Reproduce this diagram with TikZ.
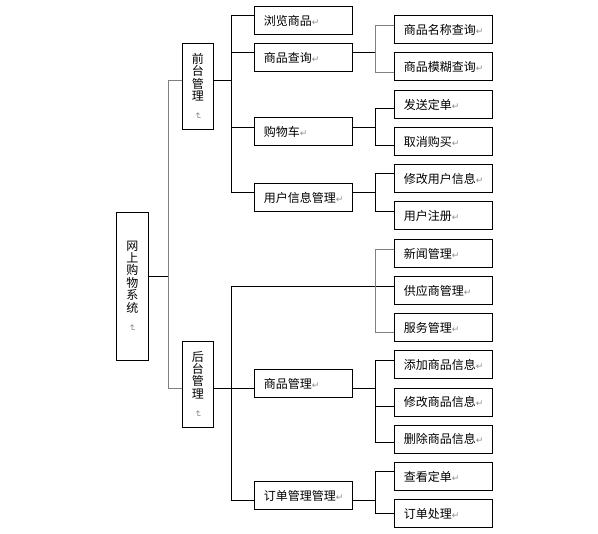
\documentclass[tikz,border=0pt]{standalone}
\usepackage{fontspec}
\newfontfamily\cjk{Noto Sans CJK SC}
\newfontfamily\symfont{DejaVu Sans}
\newcommand\retmark{{\symfont\color{black!45}\fontsize{9}{9}\selectfont ↵}}
\newcommand\retmarkv{\rotatebox{-90}{\retmark}}

\begin{document}
\begin{tikzpicture}[x=1pt, y=-1pt,
  hbox/.style={draw, line width=0.9pt, anchor=north west, minimum width=97.4pt,
    minimum height=28pt, text width=79pt, inner xsep=9.2pt, inner ysep=0pt,
    align=left, font=\cjk\fontsize{12}{14}\selectfont},
  vbox/.style={draw, line width=0.9pt, anchor=north west, minimum width=31.6pt,
    inner sep=0pt, align=center, font=\cjk\fontsize{12}{12.4}\selectfont},
  link/.style={line width=0.9pt},
  greylink/.style={line width=0.9pt, black!50}]
\useasboundingbox (0,0) rectangle (598,534);

% left column
\node[vbox, minimum height=148pt] (root) at (116,212) {网\\上\\购\\物\\系\\统\\\retmarkv};
\node[vbox, minimum height=86pt] (front) at (181.7,43.3) {前\\台\\管\\理\\\retmarkv};
\node[vbox, minimum height=86pt] (back) at (181.7,341.3) {后\\台\\管\\理\\\retmarkv};

% second column
\node[hbox] (browse) at (254.3,6.3) {浏览商品\retmark};
\node[hbox] (search) at (254.3,43.3) {商品查询\retmark};
\node[hbox] (cart) at (254.3,117.3) {购物车\retmark};
\node[hbox] (userinfo) at (254.3,183) {用户信息管理\retmark};
\node[hbox] (goods) at (254.3,369.3) {商品管理\retmark};
\node[hbox] (orders) at (254.3,481.3) {订单管理管理\retmark};

% third column
\node[hbox] (byname) at (394.3,15.3) {商品名称查询\retmark};
\node[hbox] (fuzzy) at (394.3,52.3) {商品模糊查询\retmark};
\node[hbox] (sendorder) at (394.3,90.3) {发送定单\retmark};
\node[hbox] (cancel) at (394.3,127.3) {取消购买\retmark};
\node[hbox] (edituser) at (394.3,164.3) {修改用户信息\retmark};
\node[hbox] (register) at (394.3,201.3) {用户注册\retmark};
\node[hbox] (news) at (394.3,239.3) {新闻管理\retmark};
\node[hbox] (supplier) at (394.3,276.3) {供应商管理\retmark};
\node[hbox] (service) at (394.3,313.3) {服务管理\retmark};
\node[hbox] (addgoods) at (394.3,350.3) {添加商品信息\retmark};
\node[hbox] (editgoods) at (394.3,387.7) {修改商品信息\retmark};
\node[hbox] (delgoods) at (394.3,424.7) {删除商品信息\retmark};
\node[hbox] (vieworder) at (394.3,462.3) {查看定单\retmark};
\node[hbox] (handle) at (394.3,499.3) {订单处理\retmark};

% trunks
\coordinate (t0) at (168.3,0);
\coordinate (t1) at (231.7,0);
\coordinate (t2) at (375.7,0);

% attach points
\coordinate (root-r) at ([yshift=10pt]root.east);
\coordinate (front-l) at ([yshift=6pt]front.west);
\coordinate (front-r) at ([yshift=6pt]front.east);
\coordinate (back-l) at ([yshift=-4pt]back.west);
\coordinate (back-r) at ([yshift=-4pt]back.east);
\coordinate (browse-l) at ([yshift=5pt]browse.west);
\coordinate (search-l) at ([yshift=5pt]search.west);
\coordinate (search-r) at ([yshift=5pt]search.east);
\coordinate (cart-l) at ([yshift=4.3pt]cart.west);
\coordinate (cart-r) at ([yshift=4.3pt]cart.east);
\coordinate (userinfo-l) at ([yshift=5pt]userinfo.west);
\coordinate (userinfo-r) at ([yshift=5pt]userinfo.east);
\coordinate (goods-l) at ([yshift=-4.7pt]goods.west);
\coordinate (goods-r) at ([yshift=-4.7pt]goods.east);
\coordinate (orders-l) at ([yshift=-4.4pt]orders.west);
\coordinate (orders-r) at ([yshift=-4.4pt]orders.east);
\coordinate (byname-l) at ([yshift=4.6pt]byname.west);
\coordinate (fuzzy-l) at ([yshift=-5.4pt]fuzzy.west);
\coordinate (sendorder-l) at ([yshift=-4pt]sendorder.west);
\coordinate (cancel-l) at ([yshift=-4pt]cancel.west);
\coordinate (edituser-l) at ([yshift=5pt]edituser.west);
\coordinate (register-l) at ([yshift=4pt]register.west);
\coordinate (news-l) at ([yshift=4.3pt]news.west);
\coordinate (supplier-l) at ([yshift=4.3pt]supplier.west);
\coordinate (service-l) at ([yshift=-5pt]service.west);
\coordinate (addgoods-l) at ([yshift=4.3pt]addgoods.west);
\coordinate (editgoods-l) at ([yshift=-4.3pt]editgoods.west);
\coordinate (delgoods-l) at ([yshift=-3.6pt]delgoods.west);
\coordinate (vieworder-l) at ([yshift=5pt]vieworder.west);
\coordinate (handle-l) at (handle.west);

% root
\draw[link] (root-r) -- (root-r -| t0);
\draw[greylink] (front-l) -| (back-l -| t0) -- (back-l);

% front
\draw[link] (front-r) -- (front-r -| t1);
\draw[link] (browse-l) -| (userinfo-l -| t1) -- (userinfo-l);
\draw[link] (search-l) -- (search-l -| t1);
\draw[link] (cart-l) -- (cart-l -| t1);

\draw[link] (search-r) -- (search-r -| t2);
\draw[greylink] (byname-l) -| (fuzzy-l -| t2) -- (fuzzy-l);
\draw[link] (cart-r) -- (cart-r -| t2);
\draw[link] (sendorder-l) -| (cancel-l -| t2) -- (cancel-l);
\draw[link] (userinfo-r) -- (userinfo-r -| t2);
\draw[link] (edituser-l) -| (register-l -| t2) -- (register-l);

% back
\draw[link] (back-r) -- (back-r -| t1);
\draw[link] (supplier-l) -| (orders-l -| t1) -- (orders-l);
\draw[link] (goods-l) -- (goods-l -| t1);
\draw[greylink] (news-l) -| (service-l -| t2) -- (service-l);

\draw[link] (goods-r) -- (goods-r -| t2);
\draw[link] (addgoods-l) -| (delgoods-l -| t2) -- (delgoods-l);
\draw[link] (editgoods-l) -- (editgoods-l -| t2);
\draw[link] (orders-r) -- (orders-r -| t2);
\draw[link] (vieworder-l) -| (handle-l -| t2) -- (handle-l);
\end{tikzpicture}
\end{document}
